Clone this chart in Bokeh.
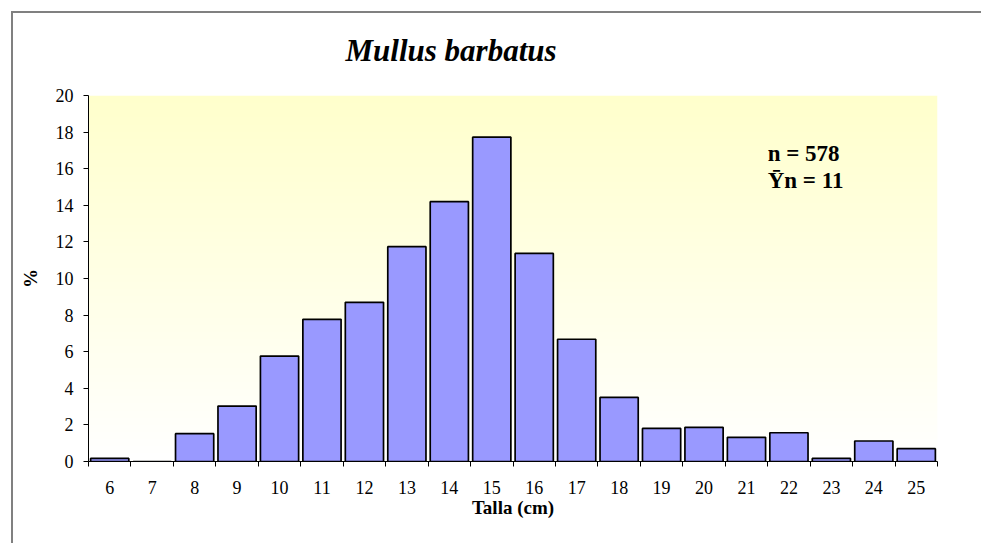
import numpy as np
from bokeh.plotting import figure
from bokeh.models import Range1d, FixedTicker, Label, ColumnDataSource
from bokeh.embed import file_html
from bokeh.resources import INLINE

# Data
tallas = [6, 7, 8, 9, 10, 11, 12, 13, 14, 15, 16, 17, 18, 19, 20, 21, 22, 23, 24, 25]
porcentaje = [0.17, 0.0, 1.52, 3.03, 5.76, 7.77, 8.7, 11.74, 14.2, 17.72,
              11.37, 6.68, 3.5, 1.81, 1.87, 1.32, 1.57, 0.17, 1.12, 0.7]
y_ticks = [0, 2, 4, 6, 8, 10, 12, 14, 16, 18, 20]
titulo = "Mullus barbatus"
anotaciones = ["n = 578", "Ȳn = 11"]

SERIF = "'Liberation Serif', 'Times New Roman', serif"

p = figure(width=981, height=543, output_backend="svg", toolbar_location=None,
           x_range=Range1d(tallas[0] - 0.5, tallas[-1] + 0.5),
           y_range=Range1d(y_ticks[0], y_ticks[-1]),
           min_border_left=88, min_border_right=44, min_border_top=95, min_border_bottom=82)
# outer chart frame (grey top/left edge) drawn behind a transparent border area
p.styles = {
    "background": ("linear-gradient(#808080, #808080) 11px 11px / 2px 100% no-repeat, "
                   "linear-gradient(#808080, #808080) 11px 11px / 100% 2px no-repeat, white"),
}

p.background_fill_color = "white"
p.border_fill_alpha = 0
p.outline_line_color = None
p.grid.visible = False

# gradient background (light yellow at top to white at bottom)
n = 256
t = np.linspace(0, 1, n)  # 0 bottom -> 1 top
img = np.zeros((n, 1), dtype=np.uint32)
view = img.view(dtype=np.uint8).reshape((n, 1, 4))
view[:, 0, 0] = 255
view[:, 0, 1] = 255
view[:, 0, 2] = (255 - 51 * t).astype(np.uint8)
view[:, 0, 3] = 255
p.image_rgba(image=[img], x=tallas[0] - 0.5, y=0, dw=len(tallas), dh=20)

src = ColumnDataSource(dict(x=tallas, top=porcentaje))
p.vbar(x="x", top="top", bottom=0, width=0.9, source=src,
       fill_color="#9999FF", line_color="black", line_width=1.7)

# Title
p.title.text = titulo
p.title.align = "left"
p.title.offset = 257
p.title.standoff = 56
p.title.text_font = SERIF
p.title.text_font_style = "bold italic"
p.title.text_font_size = "31px"
p.title.text_color = "black"

# Axes
p.xaxis.ticker = FixedTicker(ticks=tallas, minor_ticks=[v - 0.5 for v in tallas] + [tallas[-1] + 0.5])
p.xaxis.major_tick_line_color = None
p.xaxis.minor_tick_line_color = "black"
p.xaxis.minor_tick_out = 5
p.xaxis.minor_tick_in = 0
p.xaxis.axis_line_color = "black"
p.xaxis.major_label_standoff = 13
p.xaxis.major_label_text_font = SERIF
p.xaxis.major_label_text_font_size = "18px"
p.xaxis.major_label_text_color = "black"
p.xaxis.axis_label = "Talla (cm)"
p.xaxis.axis_label_text_font = SERIF
p.xaxis.axis_label_text_font_style = "bold"
p.xaxis.axis_label_text_font_size = "19px"
p.xaxis.axis_label_standoff = 0
p.xaxis.axis_label_text_color = "black"

p.yaxis.ticker = FixedTicker(ticks=y_ticks)
p.yaxis.minor_tick_line_color = None
p.yaxis.major_tick_line_color = "black"
p.yaxis.major_tick_out = 5
p.yaxis.major_tick_in = 0
p.yaxis.axis_line_color = "black"
p.yaxis.major_label_standoff = 10
p.yaxis.major_label_text_font = SERIF
p.yaxis.major_label_text_font_size = "18px"
p.yaxis.major_label_text_color = "black"
p.yaxis.axis_label = "%"
p.yaxis.axis_label_text_font = SERIF
p.yaxis.axis_label_text_font_style = "bold"
p.yaxis.axis_label_text_font_size = "19px"
p.yaxis.axis_label_standoff = 12
p.yaxis.axis_label_text_color = "black"

# Annotations
p.add_layout(Label(x=21.5, y=16.83, text=anotaciones[0], text_align="left", text_baseline="alphabetic",
                   text_font=SERIF, text_font_style="bold", text_font_size="23px", text_color="black"))
p.add_layout(Label(x=21.5, y=15.36, text=anotaciones[1], text_align="left", text_baseline="alphabetic",
                   text_font=SERIF, text_font_style="bold", text_font_size="23px", text_color="black"))

open("out.html", "w").write(file_html(p, INLINE))
